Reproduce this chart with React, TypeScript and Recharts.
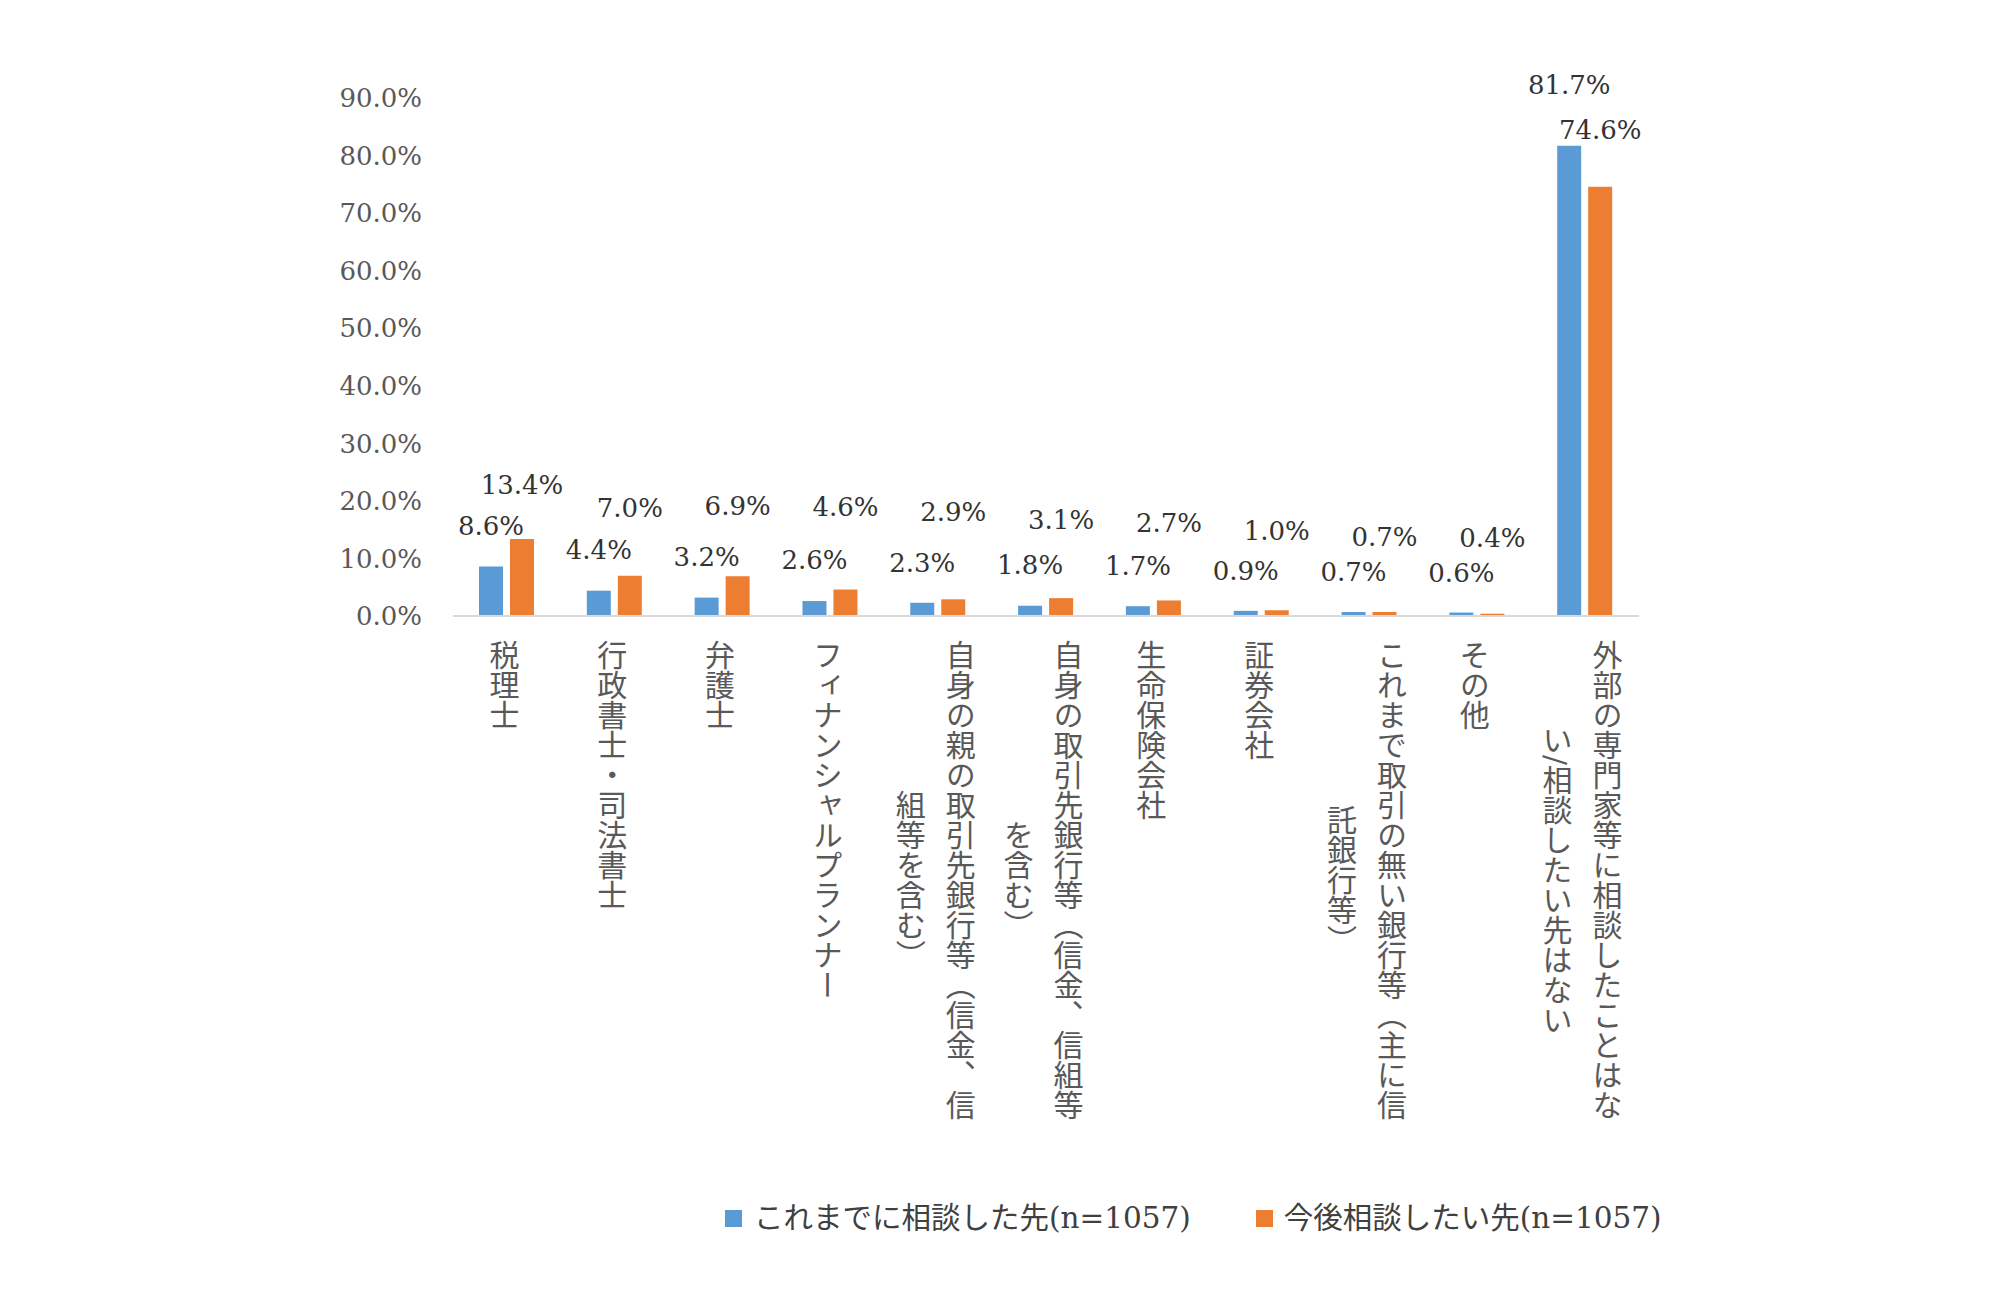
import React from "react";
import { Bar, BarChart, LabelList, XAxis, YAxis } from "recharts";

const categories = [
  "税理士",
  "行政書士・司法書士",
  "弁護士",
  "フィナンシャルプランナー",
  "自身の親の取引先銀行等（信金、信組等を含む）",
  "自身の取引先銀行等（信金、信組等を含む）",
  "生命保険会社",
  "証券会社",
  "これまで取引の無い銀行等（主に信託銀行等）",
  "その他",
  "外部の専門家等に相談したことはない/相談したい先はない",
];

const consultedBefore = [8.6, 4.4, 3.2, 2.6, 2.3, 1.8, 1.7, 0.9, 0.7, 0.6, 81.7];
const wantToConsult = [13.4, 7.0, 6.9, 4.6, 2.9, 3.1, 2.7, 1.0, 0.7, 0.4, 74.6];

const yTicks = [0, 10, 20, 30, 40, 50, 60, 70, 80, 90];

const seriesNames = ["これまでに相談した先(n=1057)", "今後相談したい先(n=1057)"];

// label lift above bar top (px), the original chart had hand-moved labels
const blueLift = [41, 41, 41, 41, 40, 41, 40, 40, 40, 40, 61];
const orangeLift = [54, 68, 70, 83, 87, 78, 77, 79, 75, 76, 57];

const BLUE = "#5B9BD5";
const ORANGE = "#ED7D31";
const FONT = '"DejaVu Serif", "Noto Sans CJK JP", serif';

const data = categories.map((name, i) => ({
  name,
  before: consultedBefore[i],
  future: wantToConsult[i],
}));

function wrapLabel(label: string, size = 16) {
  const chars = Array.from(label);
  const lines: string[] = [];
  for (let i = 0; i < chars.length; i += size) {
    lines.push(chars.slice(i, i + size).join(""));
  }
  return lines;
}

function CategoryTick(props: any) {
  const { x, y, payload } = props;
  const lines = wrapLabel(String(payload.value));
  const fontSize = 30;
  const colGap = 50;
  const cx = x - 5;
  const top = y + 24;
  const center = top + (Array.from(lines[0]).length * fontSize) / 2;
  return (
    <g>
      {lines.map((line, i) => (
        <text
          key={i}
          x={cx + ((lines.length - 1) / 2) * colGap - i * colGap}
          y={center}
          textAnchor="middle"
          fill="#595959"
          fontSize={fontSize}
          fontFamily={FONT}
          style={{ writingMode: "vertical-rl" } as any}
        >
          {line}
        </text>
      ))}
    </g>
  );
}

function makeLabel(lift: number[]) {
  return (props: any) => {
    const { x, y, width, value, index } = props;
    return (
      <text
        x={Number(x) + Number(width) / 2}
        y={Number(y) - lift[index]}
        textAnchor="middle"
        dominantBaseline="central"
        fill="#333333"
        fontSize={26}
        fontFamily={FONT}
      >
        {`${Number(value).toFixed(1)}%`}
      </text>
    );
  };
}

export default function App() {
  return (
    <div style={{ position: "absolute", left: 0, top: 0, width: 2000, height: 1300, background: "#fff" }}>
      <BarChart
        width={2000}
        height={1300}
        data={data}
        margin={{ top: 98, right: 361, left: 0, bottom: 0 }}
        barSize={24}
        barGap={7}
      >
        <XAxis
          dataKey="name"
          interval={0}
          height={684}
          tickLine={false}
          tickSize={0}
          tickMargin={0}
          axisLine={{ stroke: "#D9D9D9", strokeWidth: 2 }}
          tick={<CategoryTick />}
        />
        <YAxis
          width={453}
          domain={[0, 90]}
          ticks={yTicks}
          axisLine={false}
          tickLine={false}
          tickSize={0}
          tickMargin={31}
          tickFormatter={(v: number) => `${v.toFixed(1)}%`}
          tick={{ fill: "#595959", fontSize: 26, fontFamily: FONT }}
        />
        <Bar dataKey="before" name={seriesNames[0]} fill={BLUE} isAnimationActive={false}>
          <LabelList dataKey="before" content={makeLabel(blueLift)} />
        </Bar>
        <Bar dataKey="future" name={seriesNames[1]} fill={ORANGE} isAnimationActive={false}>
          <LabelList dataKey="future" content={makeLabel(orangeLift)} />
        </Bar>
      </BarChart>
      <div
        style={{
          position: "absolute",
          top: 1198,
          left: 725,
          display: "flex",
          alignItems: "center",
          fontFamily: FONT,
          fontSize: 29.5,
          color: "#404040",
          lineHeight: "40px",
          whiteSpace: "nowrap",
        }}
      >
        <span style={{ display: "inline-block", width: 17, height: 17, background: BLUE, marginRight: 12 }} />
        <span>{seriesNames[0]}</span>
        <span
          style={{ display: "inline-block", width: 17, height: 17, background: ORANGE, marginLeft: 65, marginRight: 11 }}
        />
        <span>{seriesNames[1]}</span>
      </div>
    </div>
  );
}
